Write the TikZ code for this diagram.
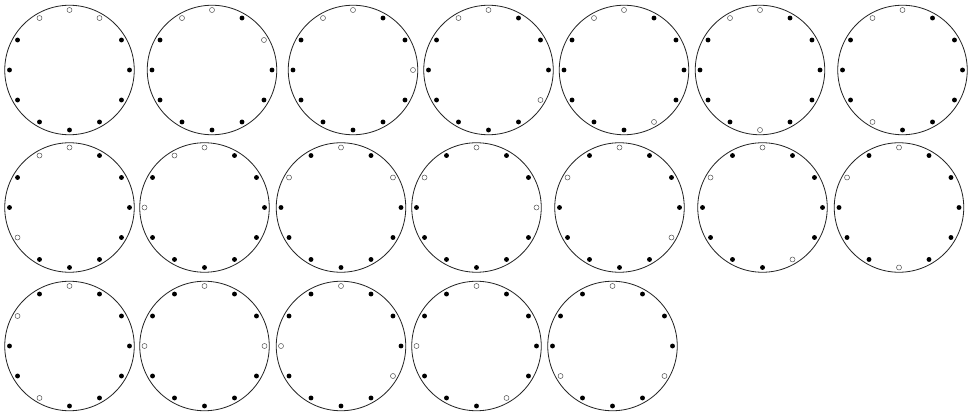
\documentclass[tikz,border=0pt]{standalone}
\usepackage{tikz}
\tikzset{
  wheel/.style={draw=black!85, circle, line width=0.7pt, minimum size=3.885cm, inner sep=0pt},
  pin/.style={fill=black},
  gap/.style={draw=black!60, fill=white, line width=0.45pt}
}
\begin{document}
\begin{tikzpicture}[x=0.03cm, y=0.03cm]
    \useasboundingbox (0,0) rectangle (975,413);
    % Wheels: centre x / centre y / two open places (clock position, 0 at the top)
    \foreach \cx/\cy/\pa/\pb [count=\i] in {
        69.5/343/1/11, 212/343/11/2, 353/343/11/3, 488.5/343/11/4,
        624/343/11/5, 760/343/11/6, 902.5/343/11/7,
        69.5/205.5/11/8, 204.5/205.5/11/9, 341/205.5/10/2, 476.5/205.5/10/3,
        619.5/205.5/10/4, 762.5/205.5/10/5, 899/205.5/10/6,
        69.5/67/10/7, 204.5/67/9/3, 341/67/9/4, 476.5/67/9/5, 612.5/67/8/4}{
        % Circle
        \node[wheel] (w\i) at (\cx,\cy) {};
        % Filled pins
        \foreach \k in {0,...,11}
            \fill[pin] (w\i.center) ++(90-30*\k:60) circle (2.45);
        % Open pins
        \foreach \k in {0,\pa,\pb}
            \draw[gap] (w\i.center) ++(90-30*\k:60) circle (2.5);
    }
\end{tikzpicture}
\end{document}
